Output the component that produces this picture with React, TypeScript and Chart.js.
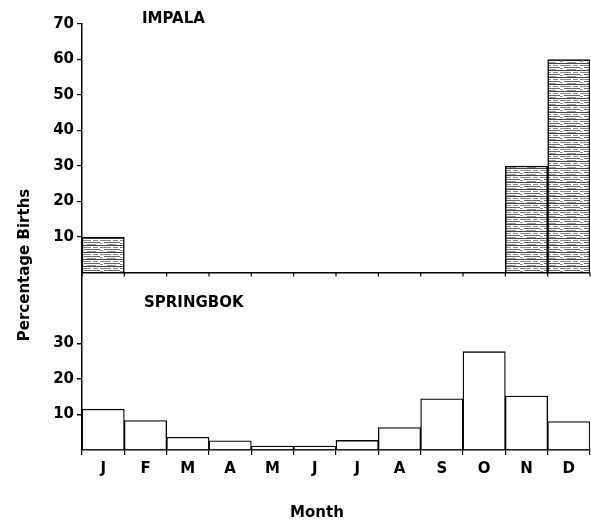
import React, { useEffect, useRef } from 'react';
import { Chart, registerables } from 'chart.js';

Chart.register(...registerables);

const months = ['J', 'F', 'M', 'A', 'M', 'J', 'J', 'A', 'S', 'O', 'N', 'D'];
const impala = [10, 0, 0, 0, 0, 0, 0, 0, 0, 0, 30, 60];
const springbok = [11.5, 8.3, 3.6, 2.6, 1.1, 1.1, 2.7, 6.3, 14.4, 27.7, 15.2, 8.0];
const impalaTicks = [10, 20, 30, 40, 50, 60, 70];
const springbokTicks = [10, 20, 30];
const impalaMax = 70;
const springbokMax = 50;

const FONT = '"DejaVu Sans", "Liberation Sans", sans-serif';
const T = 'rgba(0,0,0,0)';

function makePattern(): CanvasPattern | string {
  const c = document.createElement('canvas');
  c.width = 20;
  c.height = 7;
  const g = c.getContext('2d');
  if (!g) return '#bbb';
  g.fillStyle = '#fff';
  g.fillRect(0, 0, 20, 7);
  g.fillStyle = '#444';
  g.fillRect(0, 0, 20, 1);
  g.fillStyle = '#888';
  g.fillRect(0, 2, 11, 1);
  g.fillRect(13, 2, 5, 1);
  g.fillStyle = '#666';
  g.fillRect(4, 4, 16, 1);
  g.fillStyle = '#999';
  g.fillRect(0, 5, 3, 1);
  g.fillRect(7, 6, 9, 1);
  const p = g.createPattern(c, 'repeat');
  return p || '#bbb';
}

const textPlugin = {
  id: 'panelTexts',
  afterDraw(chart: any) {
    const { ctx, scales } = chart;
    const x = scales.x;
    const yT = scales.yT;
    ctx.save();
    ctx.fillStyle = '#000';
    ctx.font = `bold 15px ${FONT}`;
    ctx.textBaseline = 'middle';
    ctx.textAlign = 'left';
    ctx.fillText('IMPALA', 142, 19);
    ctx.fillText('SPRINGBOK', 144, 303);
    ctx.textAlign = 'center';
    ctx.fillText('Month', 317, 513);
    // boundary tick marks on the impala baseline
    const base = yT.getPixelForValue(0);
    ctx.strokeStyle = '#000';
    ctx.lineWidth = 1.2;
    for (let i = 0; i <= months.length; i++) {
      const px = x.getPixelForValue(i - 0.5);
      ctx.beginPath();
      ctx.moveTo(px, base);
      ctx.lineTo(px, base + 4);
      ctx.stroke();
    }
    ctx.translate(25, 265);
    ctx.rotate(-Math.PI / 2);
    ctx.fillText('Percentage Births', 0, 0);
    ctx.restore();
  },
};

export default function App() {
  const ref = useRef<HTMLCanvasElement>(null);

  useEffect(() => {
    if (!ref.current) return;
    const pattern = makePattern();
    const tickFont = { family: FONT, size: 15, weight: 'bold' as const };
    const chart = new Chart(ref.current, {
      type: 'bar',
      data: {
        labels: months,
        datasets: [
          {
            label: 'Springbok',
            data: springbok,
            yAxisID: 'yB',
            backgroundColor: '#fff',
            borderColor: '#000',
            borderWidth: 1.3,
            categoryPercentage: 1,
            barPercentage: 1,
            grouped: false,
          } as any,
          {
            label: 'Impala',
            data: impala,
            yAxisID: 'yT',
            backgroundColor: pattern as any,
            borderColor: '#000',
            borderWidth: 1.5,
            categoryPercentage: 1,
            barPercentage: 1,
            grouped: false,
          } as any,
        ],
      },
      options: {
        animation: false,
        responsive: false,
        layout: { padding: { top: 24, right: 1, left: 0, bottom: 0 } },
        plugins: { legend: { display: false }, tooltip: { enabled: false }, title: { display: false } },
        scales: {
          x: {
            type: 'category',
            offset: true,
            grid: { offset: true, drawOnChartArea: false, tickLength: 5, color: '#000', lineWidth: 1.2 },
            border: { color: '#000', width: 1.5 },
            ticks: { color: '#000', font: tickFont, padding: 5, maxRotation: 0, autoSkip: false },
            afterFit: (s: any) => { s.height = 71; },
          },
          yB: {
            type: 'linear',
            position: 'left',
            stack: 'panels',
            stackWeight: springbokMax,
            min: 0,
            max: springbokMax,
            ticks: {
              stepSize: 10,
              autoSkip: false,
              color: '#000',
              font: tickFont,
              padding: 3,
              callback: (v: any) => (springbokTicks.includes(v) ? String(v) : ''),
            },
            grid: {
              color: (c: any) => (c.tick && c.tick.value === springbokMax ? '#000' : T),
              tickColor: (c: any) => (c.tick && springbokTicks.includes(c.tick.value) ? '#000' : T),
              lineWidth: 1.5,
              tickLength: 5,
            },
            border: { color: '#000', width: 1.5 },
            afterFit: (s: any) => { s.width = 82; },
          },
          yT: {
            type: 'linear',
            position: 'left',
            stack: 'panels',
            stackWeight: impalaMax,
            min: 0,
            max: impalaMax,
            ticks: {
              stepSize: 10,
              autoSkip: false,
              color: '#000',
              font: tickFont,
              padding: 3,
              callback: (v: any) => (impalaTicks.includes(v) ? String(v) : ''),
            },
            grid: {
              drawOnChartArea: false,
              tickColor: (c: any) => (c.tick && impalaTicks.includes(c.tick.value) ? '#000' : T),
              lineWidth: 1.2,
              tickLength: 5,
            },
            border: { color: '#000', width: 1.5 },
            afterFit: (s: any) => { s.width = 82; },
          },
        } as any,
      },
      plugins: [textPlugin],
    });
    return () => chart.destroy();
  }, []);

  return (
    <div style={{ position: 'fixed', left: 0, top: 0, width: 591, height: 521, background: '#fff' }}>
      <canvas ref={ref} width={591} height={521} style={{ display: 'block' }} />
    </div>
  );
}
